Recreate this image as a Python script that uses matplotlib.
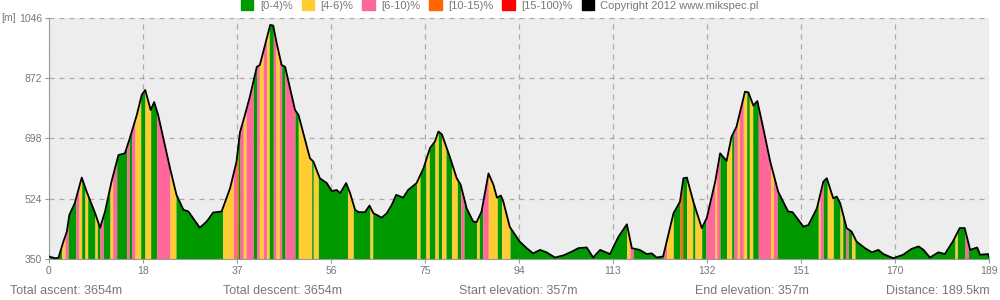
import matplotlib
matplotlib.use('Agg')
import matplotlib.pyplot as plt
from matplotlib.patches import Patch
import numpy as np

plt.rcParams['font.family'] = ['Liberation Sans', 'DejaVu Sans']

# elevation profile (km, m)
dist_km = [0, 1.2, 1.9, 2.9, 3.6, 4.1, 5.2, 6.6, 7.6, 9.3, 10.3, 11.3, 12.6, 14.0, 15.3, 16.3,
           17.7, 18.7, 19.4, 20.5, 21.2, 22.0, 24.4, 25.7, 27.1, 28.1, 30.4, 31.8, 33.1, 34.8,
           36.5, 37.8, 38.5, 39.5, 40.5, 41.9, 42.5, 44.6, 45.2, 45.9, 46.9, 47.6, 49.6, 50.3,
           52.6, 53.3, 54.6, 56.0, 57.0, 58.0, 58.7, 59.9, 60.7, 61.7, 62.4, 63.7, 64.6, 65.4,
           67.1, 68.1, 69.1, 70.0, 71.4, 72.4, 74.1, 75.5, 76.8, 77.8, 78.5, 79.2, 80.8, 82.2,
           83.0, 84.2, 85.5, 86.2, 87.2, 88.6, 89.6, 90.3, 91.1, 91.6, 92.9, 94.9, 96.3, 97.6,
           99.0, 100.3, 102.0, 103.7, 105.4, 106.7, 108.4, 109.7, 111.1, 113.1, 114.8, 116.5,
           117.5, 119.1, 120.5, 121.5, 122.5, 123.8, 125.9, 127.2, 127.9, 128.6, 129.9, 131.6,
           132.6, 134.3, 135.3, 136.6, 137.6, 138.6, 140.3, 141.0, 142.0, 142.8, 144.0, 145.4,
           147.0, 149.0, 149.9, 152.1, 153.1, 154.8, 156.1, 156.8, 158.1, 158.8, 159.5, 160.8,
           161.8, 162.8, 164.5, 165.9, 167.2, 168.2, 170.2, 172.2, 173.9, 175.3, 176.3, 177.6,
           179.3, 180.6, 182.2, 183.6, 184.6, 185.7, 187.1, 187.7, 189.3, 189.5]
elev_m = [357, 352, 353, 400, 429, 477, 511, 585, 544, 482, 440, 487, 573, 650, 655, 699,
          766, 824, 838, 780, 803, 766, 612, 535, 492, 487, 440, 458, 484, 487,
          554, 631, 716, 766, 819, 905, 910, 1026, 1024, 973, 910, 905, 780, 766,
          641, 631, 583, 569, 546, 549, 540, 569, 540, 492, 485, 485, 504, 482,
          469, 482, 506, 535, 527, 549, 569, 612, 670, 689, 718, 710, 645, 583,
          564, 496, 458, 456, 487, 597, 564, 527, 533, 515, 442, 400, 381, 366,
          376, 369, 354, 360, 371, 381, 383, 354, 376, 364, 414, 450,
          381, 376, 364, 366, 354, 357, 482, 515, 583, 585, 515, 439,
          468, 573, 655, 633, 703, 732, 833, 831, 793, 806, 727, 631,
          544, 487, 485, 443, 448, 496, 573, 583, 525, 530, 511, 439,
          429, 400, 381, 369, 376, 364, 352, 362, 379, 386, 376, 354,
          369, 364, 400, 439, 439, 376, 383, 362, 364, 357]

# gradient class stripes: start km and class (0 green .. 4 red)
stripe_start = [0, 2.56, 3.23, 3.89, 5.44, 6.05, 6.59, 7.26, 7.80, 9.27, 9.74, 10.28, 10.95,
                12.30, 12.84, 13.65, 15.66, 16.19, 16.67, 17.34, 18.49, 19.35, 20.50, 21.71,
                24.39, 25.60, 35.02, 37.16, 37.84, 38.16, 38.51, 39.17, 39.72, 41.19, 41.87,
                42.40, 43.20, 43.89, 44.41, 45.22, 45.76, 46.43, 46.91, 47.58, 49.59, 50.26,
                52.96, 53.28, 54.29, 60.22, 61.35, 64.71, 65.26, 74.13, 74.79, 76.00, 76.67,
                77.82, 78.48, 79.17, 80.04, 81.18, 82.31, 83.00, 83.66, 86.22, 86.75, 87.43,
                88.56, 90.38, 91.26, 92.94, 116.46, 117.13, 117.80, 123.84, 124.53, 125.86,
                127.21, 127.75, 128.56, 129.77, 130.23, 131.58, 132.45, 134.27, 134.61, 135.27,
                136.62, 137.63, 138.10, 138.76, 139.17, 139.97, 140.66, 141.18, 141.87, 142.99,
                145.49, 146.02, 146.82, 155.09, 155.43, 156.10, 156.90, 158.12, 159.47, 160.01,
                160.68, 161.14, 161.83, 162.49, 182.65, 183.12, 184.67, 185.33]
stripe_class = [0, 1, 2, 0, 2, 1, 0, 1, 0, 1, 0, 2, 0,
                1, 2, 0, 2, 0, 2, 1, 0, 1, 0, 2,
                1, 0, 1, 2, 3, 0, 2, 1, 2, 0, 2,
                1, 2, 1, 0, 2, 1, 2, 0, 2, 0, 1,
                0, 1, 0, 1, 0, 1, 0, 1, 0, 1, 0,
                1, 0, 1, 0, 1, 0, 2, 0, 1, 0, 2,
                1, 0, 1, 0, 1, 2, 0, 2, 1, 0,
                3, 0, 1, 0, 1, 0, 2, 1, 2, 0,
                1, 0, 2, 1, 2, 1, 0, 1, 0, 2,
                1, 2, 0, 1, 2, 0, 1, 0, 1, 0,
                2, 0, 1, 0, 1, 0, 2, 0]

class_labels = ['[0-4)%', '[4-6)%', '[6-10)%', '[10-15)%', '[15-100)%']
class_colors = ['#009900', '#ffcc33', '#ff6699', '#ff6600', '#ff0000']

stats = ['Total ascent: 3654m', 'Total descent: 3654m', 'Start elevation: 357m',
         'End elevation: 357m', 'Distance: 189.5km']
total_km = 189.5

km = np.array(dist_km)
el = np.array(elev_m)

fig = plt.figure(figsize=(10, 3), dpi=100)
ax = fig.add_axes([0.049, 0.137, 0.94, 0.803])
ax.set_facecolor('#ededed')

ends = stripe_start[1:] + [total_km]
for a, b, c in zip(stripe_start, ends, stripe_class):
    inside = km[(km > a) & (km < b)]
    xs = np.concatenate([[a], inside, [b]])
    ys = np.interp(xs, km, el)
    ax.fill_between(xs, 350, ys, color=class_colors[c], lw=0, zorder=2)

ax.plot(km, el, color='black', lw=1.3, zorder=3)

ax.set_xlim(0, total_km)
ax.set_ylim(350, 1046)
xt = np.arange(11) * total_km / 10
ax.set_xticks(xt)
ax.set_xticklabels([str(int(v)) for v in xt])
ax.set_yticks([350, 524, 698, 872, 1046])
ax.grid(True, color='#aaaaaa', linestyle=(0, (4, 4)), lw=0.9, zorder=1)
ax.set_axisbelow(True)
ax.tick_params(colors='#999999', labelcolor='#777777', labelsize=7.5, length=3, pad=2)
for s in ['top', 'right']:
    ax.spines[s].set_visible(False)
for s in ['left', 'bottom']:
    ax.spines[s].set_color('#999999')

fig.text(0.001, 0.94, '[m]', fontsize=7.5, color='#777777', va='center')

handles = [Patch(color=c) for c in class_colors] + [Patch(color='black')]
labels = class_labels + ['Copyright 2012 www.mikspec.pl']
fig.legend(handles, labels, loc='upper center', bbox_to_anchor=(0.5, 1.035), ncol=6,
           frameon=False, fontsize=8, handlelength=1.1, handleheight=1.1,
           handletextpad=0.6, columnspacing=0.8, labelcolor='#777777')

xpos = [0.010, 0.223, 0.459, 0.695]
for x, t in zip(xpos, stats[:4]):
    fig.text(x, 0.03, t, fontsize=9, color='#777777', va='center')
fig.text(0.99, 0.03, stats[4], fontsize=9, color='#777777', va='center', ha='right')

fig.savefig('out.png', dpi=100)
